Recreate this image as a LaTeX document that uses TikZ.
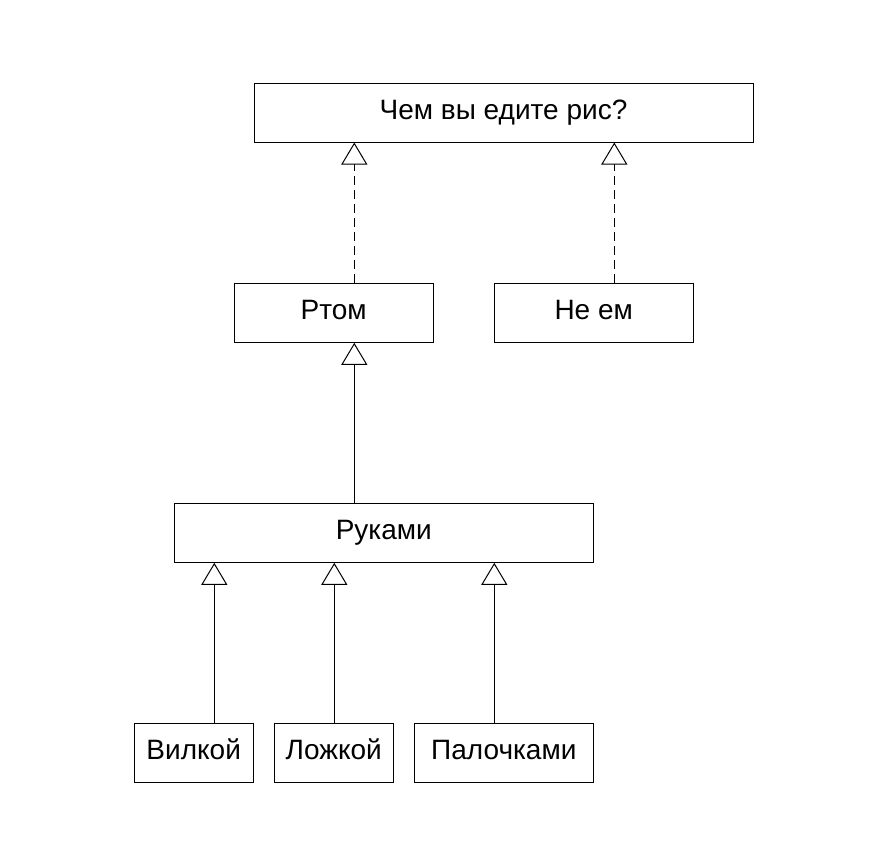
\documentclass[tikz,border=0pt]{standalone}
\usepackage{fontspec}
\setmainfont{Liberation Sans}
\usetikzlibrary{arrows.meta}

\begin{document}
\begin{tikzpicture}[x=1pt, y=-1pt, line width=1pt,
  box/.style={draw, minimum height=59pt, inner sep=0pt, font=\fontsize{28}{33}\selectfont, text height=20pt, text depth=6pt},
  inherit/.style={-{Triangle[open, length=22pt, width=26pt, fill=white]}},
  realize/.style={inherit, dash pattern=on 9pt off 5pt}]
\useasboundingbox (0,0) rectangle (893,859);
\node[box, minimum width=499pt] (rice) at (503.5,112.5) {Чем вы едите рис?};
\node[box, minimum width=199pt] (mouth) at (333.7,312.8) {Ртом};
\node[box, minimum width=199pt] (noeat) at (593.7,312.8) {Не ем};
\node[box, minimum width=419pt] (hands) at (383.8,532.8) {Руками};
\node[box, minimum width=119pt] (fork) at (193.7,752.5) {Вилкой};
\node[box, minimum width=119pt] (spoon) at (333.8,752.5) {Ложкой};
\node[box, minimum width=179pt] (sticks) at (503.8,752.5) {Палочками};
% dashed: realization
\draw[realize] ([xshift=20.6]mouth.north) -- ([xshift=20.6]mouth.north |- rice.south);
\draw[realize] ([xshift=20.6]noeat.north) -- ([xshift=20.6]noeat.north |- rice.south);
% solid: inheritance
\draw[inherit] ([xshift=20.6]mouth.south |- hands.north) -- ([xshift=20.6]mouth.south);
\draw[inherit] ([xshift=20.6]fork.north) -- ([xshift=20.6]fork.north |- hands.south);
\draw[inherit] ([xshift=0.5]spoon.north) -- ([xshift=0.5]spoon.north |- hands.south);
\draw[inherit] ([xshift=-9.5]sticks.north) -- ([xshift=-9.5]sticks.north |- hands.south);
\end{tikzpicture}
\end{document}
